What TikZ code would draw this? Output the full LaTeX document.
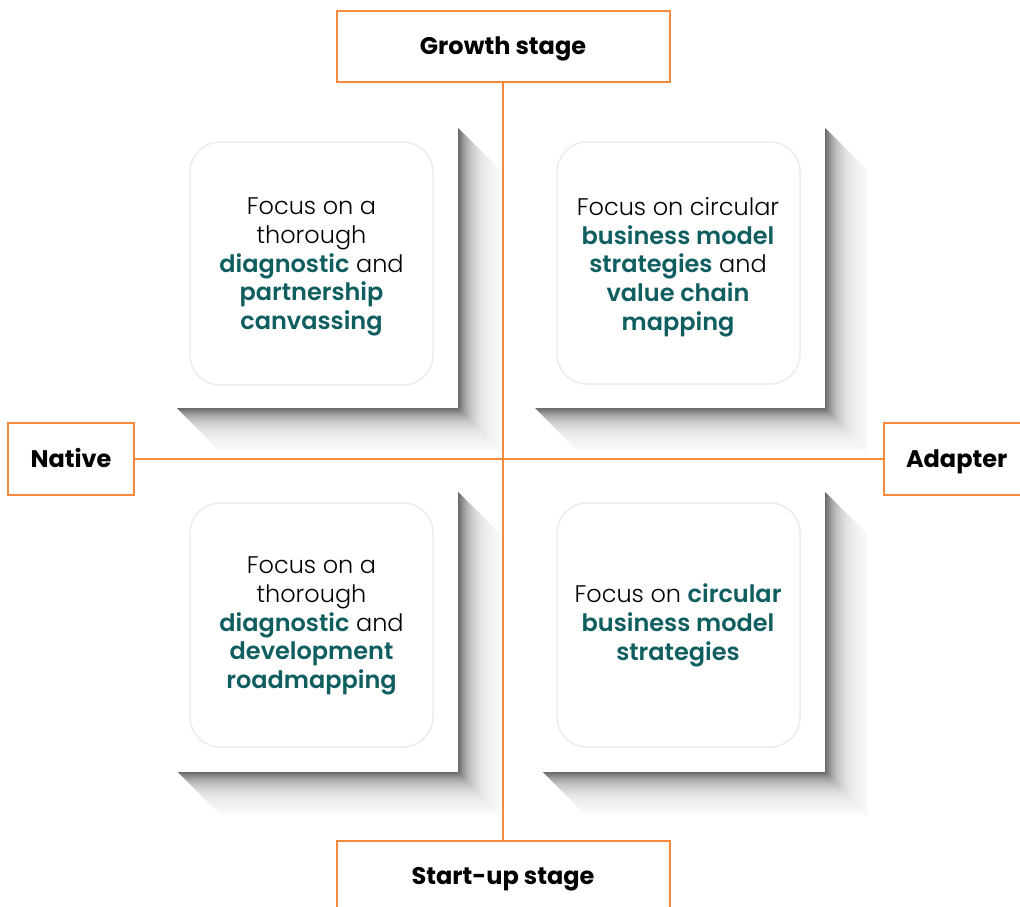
\documentclass[tikz,border=0pt]{standalone}
\usepackage{fontspec}
\setmainfont{Poppins}
\newfontfamily\plight{Poppins Light}
\usetikzlibrary{calc}
\definecolor{orng}{RGB}{245,137,61}
\definecolor{tealc}{RGB}{16,94,96}
\definecolor{inbord}{RGB}{236,236,236}
\newcommand\tb[1]{{\bfseries\color{tealc}#1}}
\tikzset{
  lbox/.style={draw=orng, line width=2pt, fill=white, inner sep=0pt,
    font=\bfseries\fontsize{24pt}{28pt}\selectfont, text=black,
    text height=17pt, text depth=1pt},
  inner card/.style={draw=inbord, line width=1.5pt, fill=white, rounded corners=30pt},
  cardtext/.style={align=center, font=\plight\fontsize{24pt}{28.7pt}\selectfont, text=black},
  conn/.style={draw=orng, line width=2pt}
}
% #1,#2 = outer top-left ; #3,#4 = outer bottom-right
\newcommand\shadowcard[4]{%
  \foreach \i in {41,40,...,0}{%
    \pgfmathsetmacro\dk{58*exp(-\i/13)}%
    \fill[black!\dk]
      ({#3+\i},{#2+\i}) -- ({#3+\i+1.4},{#2+\i+1.4}) -- ({#3+\i+1.4},{#4+\i+1.4}) -- ({#3+\i},{#4+\i}) -- cycle;
    \fill[black!\dk]
      ({#1+\i},{#4+\i}) -- ({#3+\i},{#4+\i}) -- ({#3+\i+1.4},{#4+\i+1.4}) -- ({#1+\i+1.4},{#4+\i+1.4}) -- cycle;
  }%
  \fill[white] (#1,#2) rectangle (#3,#4);
}
\begin{document}
\begin{tikzpicture}[x=1pt,y=-1pt]
\useasboundingbox (0,0) rectangle (1020,907);
\clip (0,0) rectangle (1020,907);
\fill[white] (0,0) rectangle (1020,907);

% cards (outer extrusion with shadow)
\shadowcard{177}{128}{458}{408}
\shadowcard{535}{128}{825}{408}
\shadowcard{178}{492}{458}{772}
\shadowcard{543}{492}{825}{772}

% inner rounded panels
\draw[inner card] (190,142) rectangle (433,385);
\draw[inner card] (557,142) rectangle (800,384);
\draw[inner card] (190,503) rectangle (433,747);
\draw[inner card] (557,503) rectangle (800,747);

% card texts
\node[cardtext] (tl) at (311.5,267) {Focus on a\\thorough\\\tb{diagnostic} and\\\tb{partnership}\\\tb{canvassing}};
\node[cardtext] (tr) at (678,267) {Focus on circular\\\tb{business model}\\\tb{strategies} and\\\tb{value chain}\\\tb{mapping}};
\node[cardtext] (bl) at (311.5,626) {Focus on a\\thorough\\\tb{diagnostic} and\\\tb{development}\\\tb{roadmapping}};
\node[cardtext] (br) at (678,625.5) {Focus on \tb{circular}\\\tb{business model}\\\tb{strategies}};

% label boxes
\node[lbox, minimum width=333pt, minimum height=71pt] (growth) at (503,46.5) {Growth stage};
\node[lbox, minimum width=333pt, minimum height=70pt, anchor=north] (startup) at (503,840) {Start-up stage};
\node[lbox, minimum width=126pt, minimum height=72pt] (native) at (71,459) {Native};
\node[lbox, minimum height=72pt, anchor=west, text width=160pt, align=left, inner xsep=22pt] (adapter) at (883,459) {Adapter};

% axes
\draw[conn] (growth.south) -- (startup.north);
\draw[conn] (native.east) -- (adapter.west);
\end{tikzpicture}
\end{document}
